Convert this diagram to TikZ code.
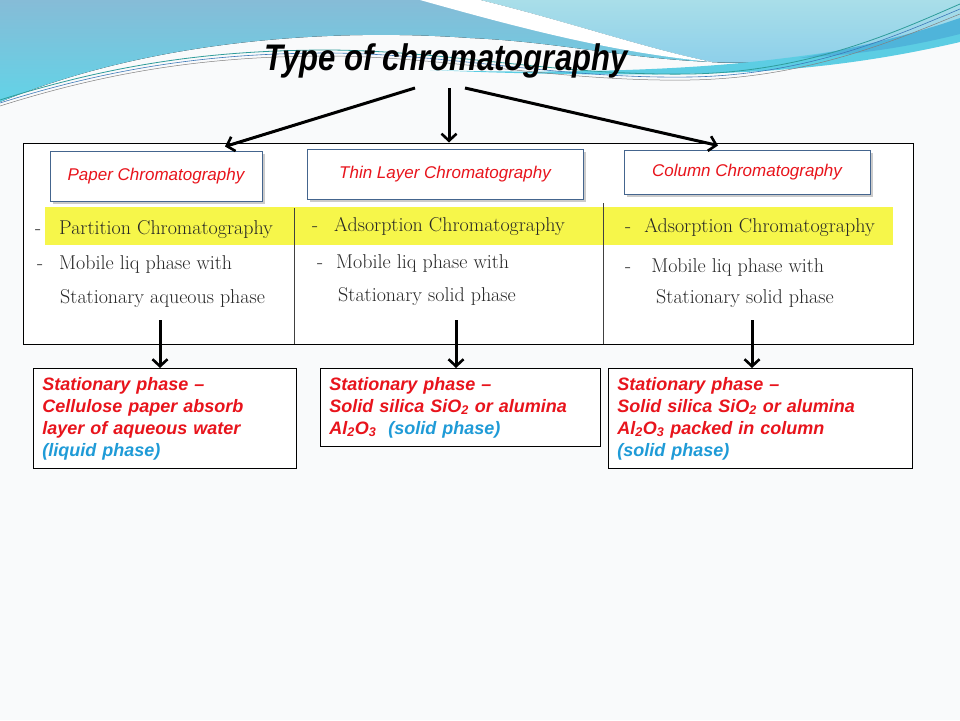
\documentclass[tikz,border=0pt]{standalone}
\usepackage{fontspec}
\usepackage{tikz}
\usetikzlibrary{arrows.meta, shadows}
\newfontfamily\arialfont{Liberation Sans}
\newfontfamily\titlefont{Liberation Sans}[FakeStretch=0.84]
\definecolor{slidebg}{HTML}{F9FAFB}
\definecolor{waveblue}{HTML}{86BCD7}
\definecolor{wavecyan}{HTML}{62D3E7}
\definecolor{wavelight}{HTML}{A9DEE9}
\definecolor{wavemid}{HTML}{8CCFEA}
\definecolor{wavestreak}{HTML}{5CCDE3}
\definecolor{wavedeep}{HTML}{4FB4DA}
\definecolor{linepetrol}{HTML}{2E9C9A}
\definecolor{lineblue}{HTML}{3D78B8}
\definecolor{boxedge}{HTML}{44658E}
\definecolor{redtext}{HTML}{E8141C}
\definecolor{bluetext}{HTML}{1F9BD7}
\definecolor{marker}{HTML}{F6F64A}
\tikzstyle{bigarrow} = [draw, line width=3pt, -{Straight Barb[length=7pt,width=15pt,line width=2.6pt]}]
\tikzstyle{headbox} = [rectangle, draw=boxedge, line width=1pt, fill=white,
    drop shadow={shadow xshift=3pt, shadow yshift=-3pt, fill=black!40},
    text=redtext, font=\arialfont\itshape\fontsize{17}{20}\selectfont, minimum height=50pt]
\tikzstyle{phasebox} = [rectangle, draw, line width=0.8pt, fill=white, anchor=north west,
    align=left, inner xsep=9pt, text=redtext, font=\arialfont\bfseries\itshape\fontsize{18}{22}\selectfont]
\tikzstyle{hand} = [anchor=base west, inner sep=0pt, text=black!85, font=\fontsize{20}{24}\selectfont]
\begin{document}
\begin{tikzpicture}[x=1pt, y=-1pt]
    \useasboundingbox (0,0) rectangle (960,720);
    \fill[slidebg] (0,0) rectangle (960,720);

    \fill[top color=waveblue, bottom color=wavecyan] (0,0) -- (960,0) -- (960,28) .. controls (870,52) and (790,66) .. (712,62) .. controls (620,58) and (560,42) .. (470,38) .. controls (330,28) and (150,40) .. (0,102) -- cycle;
    \fill[top color=wavelight, bottom color=wavemid] (480,0) .. controls (570,22) and (640,47) .. (712,62) .. controls (790,66) and (870,52) .. (960,28) -- (960,0) -- cycle;
    \fill[white] (420,0) .. controls (520,28) and (610,52) .. (712,62) .. controls (640,47) and (570,22) .. (480,0) -- cycle;
    \fill[wavestreak] (430,70) .. controls (560,74) and (680,70) .. (760,61) .. controls (860,50) and (920,36) .. (960,26) -- (960,42) .. controls (900,56) and (820,70) .. (720,73) .. controls (620,76) and (520,74) .. (430,70) -- cycle;
    \fill[wavedeep] (800,58) .. controls (870,45) and (920,32) .. (960,18) -- (960,34) .. controls (920,44) and (870,54) .. (800,58) -- cycle;
    \draw[linepetrol, line width=0.8pt] (0,100) .. controls (120,62) and (220,50) .. (330,50) .. controls (450,51) and (560,76) .. (690,74) .. controls (810,72) and (900,30) .. (960,4);
    \draw[lineblue, line width=0.6pt] (0,103) .. controls (120,65) and (220,53) .. (330,53) .. controls (450,54) and (560,79) .. (690,77) .. controls (810,75) and (900,34) .. (960,9);
    \draw[gray, line width=0.5pt] (0,106) .. controls (120,68) and (220,56) .. (330,56) .. controls (450,57) and (560,82) .. (690,80) .. controls (810,78) and (900,38) .. (960,14);

    \node[font=\titlefont\bfseries\itshape\fontsize{37}{40}\selectfont, anchor=base] (title) at (446,70) {Type of chromatography};

    \node[draw, line width=0.8pt, fill=white, minimum width=890pt, minimum height=201pt, inner sep=0pt] (shot) at (468,243.5) {};
    \fill[marker] (45,207) rectangle (893,245);
    \draw[black!75, line width=1pt] (294,208) -- (294,344);
    \draw[black!75, line width=1pt] (603,203) -- (603,344);

    \node[headbox, minimum width=212pt] (paper) at (156,176) {Paper Chromatography};
    \node[headbox, minimum width=276pt] (tlc) at (445,174) {Thin Layer Chromatography};
    \node[headbox, minimum width=246pt, minimum height=44pt] (column) at (747,172) {Column Chromatography};

    \node[hand] (p1) at (35,234) {-\hspace{18pt}Partition Chromatography};
    \node[hand] (p2) at (37,269) {-\hspace{16pt}Mobile liq phase with};
    \node[hand] (p3) at (60,303) {Stationary aqueous phase};
    \node[hand] (t1) at (312,231) {-\hspace{16pt}Adsorption Chromatography};
    \node[hand] (t2) at (317,268) {-\hspace{13pt}Mobile liq phase with};
    \node[hand] (t3) at (338,301) {Stationary solid phase};
    \node[hand] (c1) at (625,232) {-\hspace{13pt}Adsorption Chromatography};
    \node[hand] (c2) at (625,272) {-\hspace{20pt}Mobile liq phase with};
    \node[hand] (c3) at (656,303) {Stationary solid phase};

    \coordinate (from1) at (415,88);
    \coordinate (from2) at (449,88);
    \coordinate (from3) at (465,88);
    \path [bigarrow] (from1) -- ([xshift=69pt, yshift=4pt]paper.north);
    \path [bigarrow] (from2) -- ([xshift=4pt, yshift=6pt]tlc.north);
    \path [bigarrow] (from3) -- ([xshift=-29pt, yshift=4pt]column.north);

    \node[phasebox, text width=245pt, minimum height=100pt] (paperphase) at (33,368) {Stationary phase –\\Cellulose paper absorb\\layer of aqueous water\\\textcolor{bluetext}{(liquid phase)}};
    \node[phasebox, text width=262pt, minimum height=78pt] (tlcphase) at (320,368) {Stationary phase –\\Solid silica SiO\textsubscript{2} or alumina\\Al\textsubscript{2}O\textsubscript{3}\ \ \textcolor{bluetext}{(solid phase)}};
    \node[phasebox, text width=286pt, minimum height=100pt] (columnphase) at (608,368) {Stationary phase –\\Solid silica SiO\textsubscript{2} or alumina\\Al\textsubscript{2}O\textsubscript{3} packed in column\\\textcolor{bluetext}{(solid phase)}};

    \coordinate (down1) at (160,320);
    \coordinate (down2) at (456,320);
    \coordinate (down3) at (752,320);
    \path [bigarrow] (down1) -- (down1 |- paperphase.north);
    \path [bigarrow] (down2) -- (down2 |- tlcphase.north);
    \path [bigarrow] (down3) -- (down3 |- columnphase.north);
\end{tikzpicture}
\end{document}
